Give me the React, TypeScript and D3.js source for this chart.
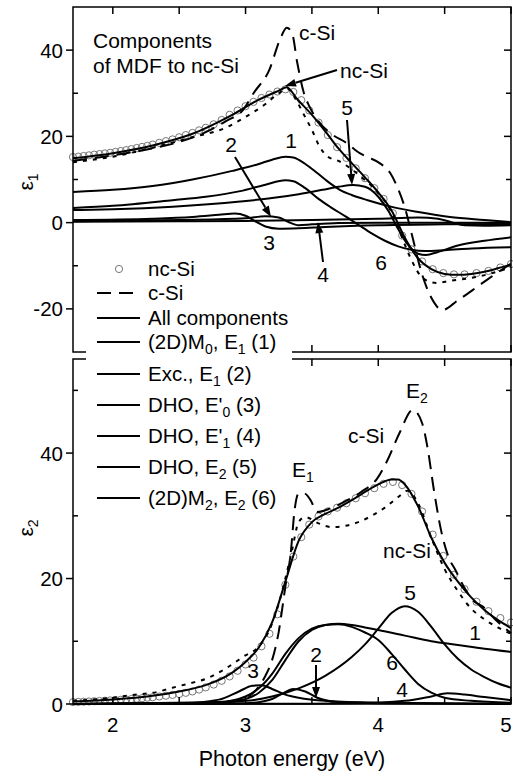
import React from 'react';
import * as d3 from 'd3';

type Pt = [number, number];

// photon energies of the nc-Si measurement (eV)
const energyGrid = [1.70, 1.74, 1.78, 1.82, 1.86, 1.90, 1.94, 1.98, 2.02, 2.06, 2.10, 2.14, 2.18, 2.22, 2.26, 2.30, 2.35, 2.40, 2.45, 2.50, 2.55, 2.60, 2.65, 2.70, 2.76, 2.82, 2.88, 2.94, 3.00, 3.06, 3.12, 3.18, 3.24, 3.30, 3.36, 3.42, 3.48, 3.55, 3.62, 3.69, 3.76, 3.83, 3.90, 3.97, 4.04, 4.11, 4.18, 4.25, 4.33, 4.41, 4.49, 4.57, 4.65, 4.74, 4.83, 4.92, 5.00];

const ncSiEps1 = [15.2, 15.3, 15.45, 15.6, 15.75, 15.9, 16.05, 16.2, 16.4, 16.6, 16.8, 17.05, 17.3, 17.55, 17.8, 18.1, 18.5, 18.9, 19.3, 19.8, 20.3, 20.8, 21.4, 22.0, 22.8, 23.8, 25.0, 26.0, 27.0, 28.0, 28.9, 29.7, 30.4, 30.9, 30.3, 28.4, 26.0, 23.2, 20.3, 17.5, 15.0, 12.6, 10.3, 8.0, 5.5, 2.2, -3.0, -6.2, -9.0, -10.8, -11.7, -12.0, -12.0, -11.7, -11.2, -10.4, -9.6];

const ncSiEps2 = [0.30, 0.33, 0.36, 0.40, 0.44, 0.48, 0.52, 0.57, 0.62, 0.67, 0.73, 0.79, 0.85, 0.92, 1.00, 1.08, 1.20, 1.32, 1.45, 1.60, 1.78, 2.00, 2.30, 2.65, 3.1, 3.7, 4.4, 5.3, 6.3, 7.4, 9.2, 11.2, 14.3, 19.0, 23.5, 26.6, 28.6, 29.9, 30.7, 31.3, 32.0, 32.8, 33.6, 34.4, 35.1, 35.4, 34.9, 33.5, 30.7, 27.0, 23.6, 20.6, 18.3, 16.3, 14.8, 13.7, 13.0];

// epsilon_1 curves [E, value]
const fitEps1: Pt[] = [[1.7, 14.9], [2.0, 16.1], [2.3, 17.9], [2.6, 20.6], [2.9, 25.0], [3.1, 28.5], [3.25, 30.6], [3.31, 31.4], [3.39, 28.6], [3.5, 25.0], [3.61, 20.8], [3.7, 17.2], [3.8, 13.8], [3.9, 10.5], [4.0, 7.0], [4.1, 2.8], [4.2, -3.5], [4.3, -8.3], [4.4, -10.8], [4.5, -11.9], [4.6, -12.1], [4.7, -11.9], [4.8, -11.4], [4.9, -10.6], [5.0, -9.7]];
const cSiEps1: Pt[] = [[1.7, 14.3], [2.0, 15.6], [2.3, 17.2], [2.5, 18.7], [2.7, 21.0], [2.85, 23.5], [2.98, 26.1], [3.06, 30.0], [3.18, 35.5], [3.26, 42.5], [3.31, 45.2], [3.35, 44.0], [3.39, 37.0], [3.44, 30.0], [3.48, 27.0], [3.55, 23.5], [3.65, 20.5], [3.76, 18.5], [3.86, 16.1], [3.92, 15.2], [4.01, 13.8], [4.09, 11.5], [4.14, 8.5], [4.2, 3.5], [4.25, -2.4], [4.33, -12.0], [4.42, -18.5], [4.48, -20.3], [4.6, -18.0], [4.74, -15.0], [4.84, -12.8], [5.0, -9.5]];
const otherEps1: Pt[] = [[1.7, 14.0], [2.0, 15.3], [2.33, 17.6], [2.6, 19.8], [2.85, 22.0], [3.0, 24.5], [3.15, 27.5], [3.25, 30.0], [3.32, 31.0], [3.38, 28.5], [3.44, 25.0], [3.5, 21.5], [3.56, 17.5], [3.62, 15.3], [3.7, 14.3], [3.78, 12.8], [3.86, 10.9], [3.98, 7.5], [4.09, 3.0], [4.16, -2.0], [4.24, -8.0], [4.34, -13.0], [4.44, -14.0], [4.54, -13.5], [4.7, -12.8], [4.85, -11.8], [5.0, -10.3]];
const comp1Eps1: Pt[] = [[1.7, 7.1], [2.0, 7.6], [2.3, 8.5], [2.6, 10.0], [2.9, 12.0], [3.1, 13.6], [3.2, 14.6], [3.3, 15.3], [3.36, 15.1], [3.45, 13.6], [3.54, 11.5], [3.62, 9.5], [3.71, 7.6], [3.8, 6.4], [3.92, 5.2], [4.11, 3.6], [4.29, 2.5], [4.54, 1.3], [4.8, 0.6], [5.0, 0.1]];
const comp2Eps1: Pt[] = [[1.7, 0.3], [2.5, 0.6], [3.0, 1.0], [3.15, 1.5], [3.25, 1.2], [3.32, 0.2], [3.4, -0.6], [3.5, -0.4], [3.7, -0.1], [4.0, 0.0], [5.0, 0.0]];
const comp3Eps1: Pt[] = [[1.7, 0.6], [2.3, 0.9], [2.6, 1.3], [2.8, 1.8], [2.92, 2.1], [3.0, 1.6], [3.08, 0.2], [3.15, -0.9], [3.25, -1.4], [3.4, -1.3], [3.6, -1.0], [4.0, -0.6], [4.5, -0.4], [5.0, -0.3]];
const comp4Eps1: Pt[] = [[1.7, 0.2], [2.5, 0.3], [3.0, 0.4], [3.5, 0.6], [4.0, 0.9], [4.3, 1.2], [4.45, 0.9], [4.55, 0.1], [4.65, -0.6], [4.8, -0.7], [5.0, -0.6]];
const comp5Eps1: Pt[] = [[1.7, 2.9], [2.0, 3.1], [2.45, 3.7], [2.96, 4.9], [3.2, 5.7], [3.4, 6.6], [3.58, 7.6], [3.7, 8.3], [3.81, 8.7], [3.9, 8.3], [4.0, 6.0], [4.08, 2.5], [4.15, -1.5], [4.22, -5.0], [4.3, -7.2], [4.36, -7.5], [4.45, -6.8], [4.6, -5.3], [4.8, -4.2], [5.0, -3.4]];
const comp6Eps1: Pt[] = [[1.7, 3.4], [2.0, 3.9], [2.45, 5.2], [2.7, 6.0], [2.96, 7.3], [3.15, 8.8], [3.3, 9.8], [3.36, 9.6], [3.45, 8.0], [3.55, 5.5], [3.64, 3.6], [3.75, 1.5], [3.85, -0.5], [3.95, -2.5], [4.05, -4.2], [4.15, -5.5], [4.25, -6.3], [4.35, -6.6], [4.5, -6.4], [4.7, -6.0], [5.0, -5.7]];

// epsilon_2 curves [E, value]
const fitEps2: Pt[] = [[1.7, 0.4], [2.0, 0.7], [2.3, 1.3], [2.5, 2.0], [2.7, 3.0], [2.9, 5.0], [3.0, 6.7], [3.1, 9.0], [3.2, 13.0], [3.3, 19.5], [3.4, 26.0], [3.5, 29.0], [3.6, 30.3], [3.7, 31.3], [3.8, 32.5], [3.9, 33.8], [4.0, 35.0], [4.1, 35.8], [4.15, 35.8], [4.2, 35.0], [4.3, 31.5], [4.4, 26.5], [4.5, 22.5], [4.6, 19.5], [4.7, 17.0], [4.8, 15.0], [4.9, 13.4], [5.0, 12.1]];
const cSiEps2: Pt[] = [[1.7, 0.0], [2.5, 0.05], [2.8, 0.3], [3.0, 1.0], [3.1, 2.8], [3.15, 4.5], [3.2, 7.0], [3.25, 11.5], [3.3, 18.7], [3.34, 24.0], [3.37, 31.0], [3.4, 33.6], [3.45, 33.5], [3.49, 32.5], [3.54, 30.6], [3.64, 31.2], [3.75, 32.3], [3.87, 33.8], [3.99, 35.9], [4.07, 38.9], [4.16, 43.2], [4.26, 46.9], [4.33, 44.8], [4.37, 41.0], [4.42, 34.0], [4.47, 28.0], [4.53, 23.4], [4.58, 21.4], [4.65, 18.5], [4.71, 16.6], [4.79, 15.5], [4.88, 13.5], [5.0, 11.3]];
const otherEps2: Pt[] = [[1.7, 0.5], [1.9, 0.8], [2.0, 1.0], [2.13, 1.4], [2.33, 1.9], [2.45, 2.6], [2.58, 3.3], [2.7, 4.0], [2.83, 5.4], [2.98, 7.5], [3.11, 9.4], [3.18, 11.8], [3.25, 16.0], [3.3, 20.0], [3.35, 24.5], [3.4, 29.0], [3.45, 29.8], [3.55, 28.8], [3.65, 28.2], [3.75, 28.4], [3.85, 29.0], [3.95, 30.0], [4.05, 31.3], [4.15, 33.0], [4.22, 34.0], [4.3, 32.0], [4.4, 26.5], [4.5, 21.5], [4.6, 18.0], [4.7, 15.2], [4.8, 13.5], [4.9, 12.2], [5.0, 11.2]];
const comp1Eps2: Pt[] = [[1.7, 0.0], [2.8, 0.2], [3.0, 0.8], [3.1, 1.8], [3.2, 3.8], [3.3, 7.0], [3.4, 10.0], [3.5, 11.8], [3.6, 12.6], [3.7, 12.8], [3.8, 12.6], [3.9, 12.2], [4.0, 11.8], [4.2, 10.9], [4.4, 10.0], [4.6, 9.4], [4.8, 8.8], [5.0, 8.3]];
const comp2Eps2: Pt[] = [[1.7, 0.0], [3.0, 0.1], [3.1, 0.3], [3.2, 0.8], [3.28, 1.7], [3.36, 2.4], [3.45, 2.0], [3.54, 1.0], [3.7, 0.3], [4.0, 0.1], [5.0, 0.0]];
const comp3Eps2: Pt[] = [[1.7, 0.0], [2.5, 0.1], [2.8, 0.7], [2.95, 2.0], [3.05, 2.9], [3.12, 3.0], [3.2, 2.4], [3.3, 1.5], [3.4, 1.0], [3.6, 0.5], [4.0, 0.2], [5.0, 0.05]];
const comp4Eps2: Pt[] = [[1.7, 0.0], [3.5, 0.05], [3.8, 0.1], [4.2, 0.5], [4.4, 1.2], [4.52, 1.7], [4.65, 1.5], [4.8, 1.1], [5.0, 0.6]];
const comp5Eps2: Pt[] = [[1.7, 0.0], [2.5, 0.1], [3.0, 0.5], [3.2, 1.2], [3.4, 2.5], [3.6, 4.5], [3.8, 7.5], [3.9, 9.5], [4.0, 12.0], [4.1, 14.5], [4.2, 15.6], [4.3, 14.7], [4.4, 12.3], [4.5, 9.5], [4.6, 7.2], [4.7, 5.5], [4.8, 4.3], [4.9, 3.3], [5.0, 2.6]];
const comp6Eps2: Pt[] = [[1.7, 0.0], [2.8, 0.3], [3.0, 1.2], [3.1, 2.5], [3.2, 4.8], [3.3, 8.0], [3.4, 10.5], [3.5, 12.0], [3.6, 12.6], [3.7, 12.7], [3.8, 12.3], [3.9, 11.4], [4.0, 10.2], [4.1, 8.0], [4.2, 5.5], [4.3, 3.2], [4.4, 1.8], [4.5, 1.0], [4.7, 0.5], [5.0, 0.2]];

const xTicks = [2, 3, 4, 5];
const xMinorTicks = [2.5, 3.5, 4.5];
const eps1Ticks = [-20, 0, 20, 40];
const eps1MinorTicks = [-10, 10, 30];
const eps2Ticks = [0, 20, 40];
const eps2MinorTicks = [10, 30, 50];

const FONT = '"Liberation Sans", Arial, sans-serif';
const LEFT = 73, RIGHT = 511;
const TOP_Y0 = 7, TOP_Y1 = 352;
const BOT_Y0 = 359, BOT_Y1 = 704;

const x = d3.scaleLinear().domain([1.7, 5]).range([LEFT, RIGHT]);
const y1 = d3.scaleLinear().domain([-30, 50]).range([TOP_Y1, TOP_Y0]);
const y2 = d3.scaleLinear().domain([0, 55]).range([BOT_Y1, BOT_Y0]);

function pathFor(data: Pt[], y: d3.ScaleLinear<number, number>) {
  return d3.line<Pt>().x(d => x(d[0])).y(d => y(d[1])).curve(d3.curveMonotoneX)(data) || '';
}

function Arrow({ x1, y1: ya, x2, y2: yb }: { x1: number; y1: number; x2: number; y2: number }) {
  const ang = Math.atan2(yb - ya, x2 - x1);
  const len = 11, half = 4;
  const bx = x2 - len * Math.cos(ang), by = yb - len * Math.sin(ang);
  const px = -Math.sin(ang) * half, py = Math.cos(ang) * half;
  return (
    <g>
      <line x1={x1} y1={ya} x2={bx} y2={by} stroke="#000" strokeWidth={2} />
      <polygon points={`${x2},${yb} ${bx + px},${by + py} ${bx - px},${by - py}`} fill="#000" />
    </g>
  );
}

function Frame({ y, top, bottom }: { y: d3.ScaleLinear<number, number>; top: number; bottom: number }) {
  const isTop = top === TOP_Y0;
  const major = isTop ? eps1Ticks : eps2Ticks;
  const minor = isTop ? eps1MinorTicks : eps2MinorTicks;
  return (
    <g stroke="#000" strokeWidth={1.5}>
      <rect x={LEFT} y={top} width={RIGHT - LEFT} height={bottom - top} fill="none" />
      {major.map(v => (
        <g key={'M' + v}>
          <line x1={LEFT - 7} x2={LEFT} y1={y(v)} y2={y(v)} />
          <line x1={RIGHT - 7} x2={RIGHT} y1={y(v)} y2={y(v)} />
        </g>
      ))}
      {minor.map(v => (
        <g key={'m' + v}>
          <line x1={LEFT} x2={LEFT + 5} y1={y(v)} y2={y(v)} />
          <line x1={RIGHT - 5} x2={RIGHT} y1={y(v)} y2={y(v)} />
        </g>
      ))}
      {xTicks.concat(xMinorTicks).map(v => (
        <g key={'x' + v}>
          <line x1={x(v)} x2={x(v)} y1={top} y2={top + 7} />
          <line x1={x(v)} x2={x(v)} y1={bottom} y2={bottom - 7} />
        </g>
      ))}
    </g>
  );
}

export default function App() {
  const upperLines = [comp1Eps1, comp2Eps1, comp3Eps1, comp4Eps1, comp5Eps1, comp6Eps1];
  const lowerLines = [comp1Eps2, comp2Eps2, comp3Eps2, comp4Eps2, comp5Eps2, comp6Eps2];
  const legendRows: { y: number; kind: string; parts: [string, boolean][] }[] = [
    { y: 269, kind: 'circle', parts: [['nc-Si', false]] },
    { y: 293, kind: 'dash', parts: [['c-Si', false]] },
    { y: 318, kind: 'line', parts: [['All components', false]] },
    { y: 342, kind: 'line', parts: [['(2D)M', false], ['0', true], [', E', false], ['1', true], [' (1)', false]] },
    { y: 374, kind: 'line', parts: [['Exc., E', false], ['1', true], [' (2)', false]] },
    { y: 405, kind: 'line', parts: [["DHO, E'", false], ['0', true], [' (3)', false]] },
    { y: 436, kind: 'line', parts: [["DHO, E'", false], ['1', true], [' (4)', false]] },
    { y: 467, kind: 'line', parts: [['DHO, E', false], ['2', true], [' (5)', false]] },
    { y: 498, kind: 'line', parts: [['(2D)M', false], ['2', true], [', E', false], ['2', true], [' (6)', false]] },
  ];

  const renderParts = (parts: [string, boolean][]) => {
    let prevSub = false;
    return parts.map(([t, sub], i) => {
      const dy = sub && !prevSub ? 5 : !sub && prevSub ? -5 : 0;
      prevSub = sub;
      return (
        <tspan key={i} dy={dy} fontSize={sub ? 14 : undefined}>{t}</tspan>
      );
    });
  };

  return (
    <svg width={513} height={776} style={{ position: 'absolute', left: 0, top: 0, background: '#fff' }} fontFamily={FONT}>
      <rect x={0} y={0} width={513} height={776} fill="#fff" />

      {/* upper panel: epsilon 1 */}
      <g fill="none" stroke="#777" strokeWidth={1}>
        {energyGrid.map((e, i) => (
          <circle key={'c1' + i} cx={x(e)} cy={y1(ncSiEps1[i])} r={3.6} />
        ))}
      </g>
      <g fill="none" stroke="#000" strokeWidth={2}>
        <path d={pathFor(cSiEps1, y1)} strokeDasharray="14,8" />
        <path d={pathFor(otherEps1, y1)} strokeDasharray="4,6" />
        <path d={pathFor(fitEps1, y1)} />
        {upperLines.map((d, i) => (
          <path key={'u' + i} d={pathFor(d, y1)} />
        ))}
      </g>

      {/* lower panel: epsilon 2 */}
      <g fill="none" stroke="#777" strokeWidth={1}>
        {energyGrid.map((e, i) => (
          <circle key={'c2' + i} cx={x(e)} cy={y2(ncSiEps2[i])} r={3.6} />
        ))}
      </g>
      <g fill="none" stroke="#000" strokeWidth={2}>
        <path d={pathFor(cSiEps2, y2)} strokeDasharray="14,8" />
        <path d={pathFor(otherEps2, y2)} strokeDasharray="4,6" />
        <path d={pathFor(fitEps2, y2)} />
        {lowerLines.map((d, i) => (
          <path key={'l' + i} d={pathFor(d, y2)} />
        ))}
      </g>

      <Frame y={y1} top={TOP_Y0} bottom={TOP_Y1} />
      <Frame y={y2} top={BOT_Y0} bottom={BOT_Y1} />

      {/* legend */}
      <rect x={86} y={254} width={206} height={258} fill="#fff" />
      <g fontSize={20.5}>
        {legendRows.map((r, i) => (
          <g key={'lg' + i}>
            {r.kind === 'circle' && <circle cx={119} cy={r.y} r={3.6} fill="none" stroke="#777" strokeWidth={1} />}
            {r.kind === 'dash' && <line x1={97} x2={140} y1={r.y} y2={r.y} stroke="#000" strokeWidth={2} strokeDasharray="14,8" />}
            {r.kind === 'line' && <line x1={97} x2={140} y1={r.y} y2={r.y} stroke="#000" strokeWidth={2} />}
            <text x={148} y={r.y + 7}>{renderParts(r.parts)}</text>
          </g>
        ))}
      </g>

      {/* tick labels */}
      <g fontSize={20.5}>
        {eps1Ticks.map(v => (
          <text key={'t1' + v} x={63} y={y1(v) + 7.5} textAnchor="end">{v}</text>
        ))}
        {eps2Ticks.map(v => (
          <text key={'t2' + v} x={63} y={y2(v) + 7.5} textAnchor="end">{v}</text>
        ))}
        {xTicks.map(v => (
          <text key={'tx' + v} x={Math.min(x(v), 506)} y={732} textAnchor="middle">{v}</text>
        ))}
      </g>
      <text x={292} y={766} fontSize={21.5} textAnchor="middle">Photon energy (eV)</text>
      <text transform="translate(33,182) rotate(-90)" fontSize={21} textAnchor="middle">
        ε<tspan fontSize={14} dy={5}>1</tspan>
      </text>
      <text transform="translate(33,528) rotate(-90)" fontSize={21} textAnchor="middle">
        ε<tspan fontSize={14} dy={5}>2</tspan>
      </text>

      {/* upper annotations */}
      <g fontSize={21}>
        <text x={93} y={48}>Components</text>
        <text x={93} y={73}>of MDF to nc-Si</text>
        <text x={299} y={40}>c-Si</text>
        <text x={340} y={78}>nc-Si</text>
        <text x={291} y={148} textAnchor="middle">1</text>
        <text x={231} y={152} textAnchor="middle">2</text>
        <text x={269} y={250} textAnchor="middle">3</text>
        <text x={323} y={282} textAnchor="middle">4</text>
        <text x={347} y={115} textAnchor="middle">5</text>
        <text x={381} y={270} textAnchor="middle">6</text>
      </g>
      <Arrow x1={337} y1={70} x2={285} y2={86} />
      <Arrow x1={235} y1={157} x2={271} y2={217} />
      <Arrow x1={347} y1={120} x2={352} y2={185} />
      <Arrow x1={323} y1={262} x2={318} y2={222} />

      {/* lower annotations */}
      <g fontSize={21}>
        <text x={406} y={398}>E<tspan fontSize={14} dy={5}>2</tspan></text>
        <text x={348} y={443}>c-Si</text>
        <text x={292} y={477}>E<tspan fontSize={14} dy={5}>1</tspan></text>
        <text x={383} y={558}>nc-Si</text>
        <text x={410} y={600} textAnchor="middle">5</text>
        <text x={475} y={640} textAnchor="middle">1</text>
        <text x={392} y={670} textAnchor="middle">6</text>
        <text x={402} y={697} textAnchor="middle">4</text>
        <text x={316} y={662} textAnchor="middle">2</text>
        <text x={253} y={678} textAnchor="middle">3</text>
      </g>
      <Arrow x1={316} y1={665} x2={316} y2={698} />
    </svg>
  );
}
